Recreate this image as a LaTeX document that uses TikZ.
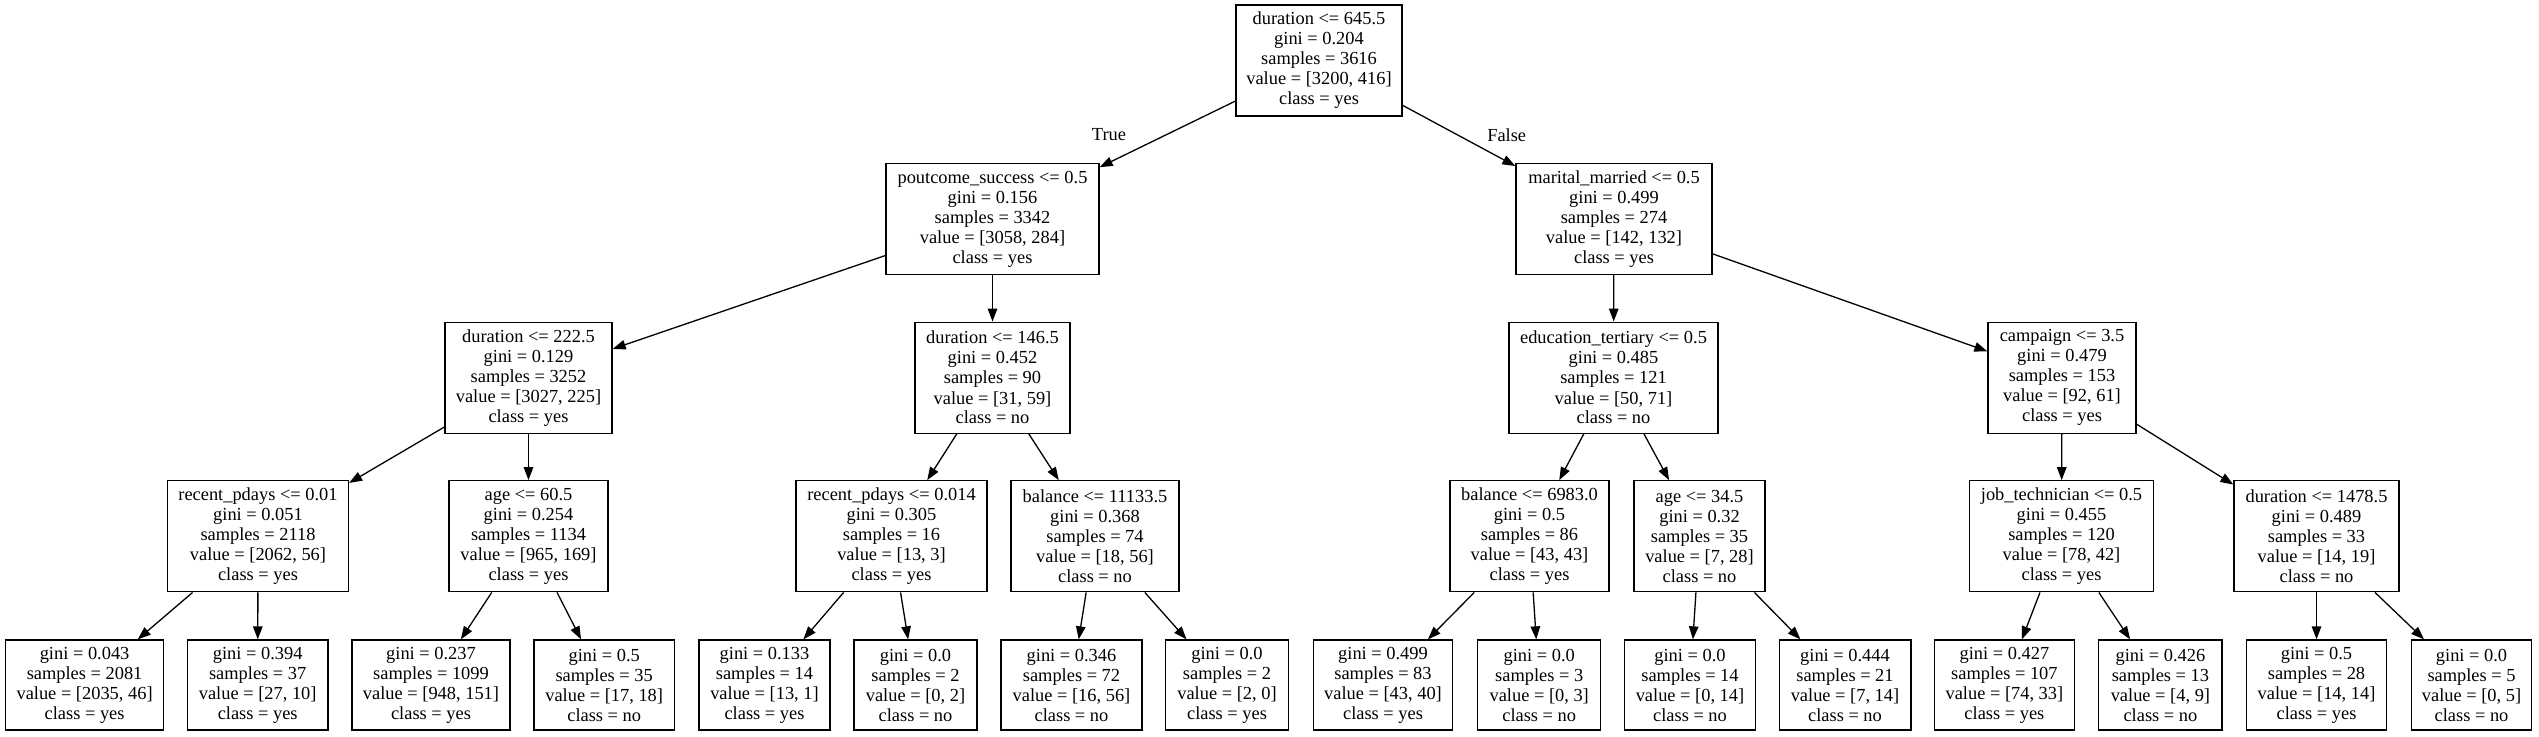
\documentclass[tikz,border=0pt]{standalone}
\usepackage{fontspec}
\setmainfont{Liberation Serif}
\usetikzlibrary{arrows.meta}
\begin{document}
\begin{tikzpicture}[x=1pt,y=-1pt,
  tbox/.style={draw=black, line width=1.3pt, rectangle, align=center, inner sep=0pt,
    font=\fontsize{18.4pt}{20pt}\selectfont},
  inode/.style={tbox, minimum height=111pt},
  lnode/.style={tbox, minimum height=90pt},
  edge/.style={line width=1.3pt, -{Triangle[length=13pt,width=9.5pt]}},
  elabel/.style={font=\fontsize{18.4pt}{20pt}\selectfont, inner sep=0pt}]
\useasboundingbox (0,0) rectangle (2539,736);
% level 0
\node[inode, minimum width=166pt] (root) at (1319,60.5) {duration <= 645.5\\gini = 0.204\\samples = 3616\\value = [3200, 416]\\class = yes};
% level 1
\node[inode, minimum width=213pt] (pout) at (992.5,219) {poutcome\_success <= 0.5\\gini = 0.156\\samples = 3342\\value = [3058, 284]\\class = yes};
\node[inode, minimum width=196pt] (mar) at (1614,219) {marital\_married <= 0.5\\gini = 0.499\\samples = 274\\value = [142, 132]\\class = yes};
% level 2
\node[inode, minimum width=167pt] (dura) at (528.5,377.7) {duration <= 222.5\\gini = 0.129\\samples = 3252\\value = [3027, 225]\\class = yes};
\node[inode, minimum width=155pt] (durb) at (992.5,377.7) {duration <= 146.5\\gini = 0.452\\samples = 90\\value = [31, 59]\\class = no};
\node[inode, minimum width=209pt] (edu) at (1613.5,377.7) {education\_tertiary <= 0.5\\gini = 0.485\\samples = 121\\value = [50, 71]\\class = no};
\node[inode, minimum width=148pt] (camp) at (2062,377.7) {campaign <= 3.5\\gini = 0.479\\samples = 153\\value = [92, 61]\\class = yes};
% level 3
\node[inode, minimum width=181pt] (rpa) at (258,536.3) {recent\_pdays <= 0.01\\gini = 0.051\\samples = 2118\\value = [2062, 56]\\class = yes};
\node[inode, minimum width=159pt] (agea) at (528.5,536.3) {age <= 60.5\\gini = 0.254\\samples = 1134\\value = [965, 169]\\class = yes};
\node[inode, minimum width=191pt] (rpb) at (891.5,536.3) {recent\_pdays <= 0.014\\gini = 0.305\\samples = 16\\value = [13, 3]\\class = yes};
\node[inode, minimum width=168pt] (bala) at (1095,536.3) {balance <= 11133.5\\gini = 0.368\\samples = 74\\value = [18, 56]\\class = no};
\node[inode, minimum width=159pt] (balb) at (1529.5,536.3) {balance <= 6983.0\\gini = 0.5\\samples = 86\\value = [43, 43]\\class = yes};
\node[inode, minimum width=131pt] (ageb) at (1699.5,536.3) {age <= 34.5\\gini = 0.32\\samples = 35\\value = [7, 28]\\class = no};
\node[inode, minimum width=184pt] (job) at (2061.5,536.3) {job\_technician <= 0.5\\gini = 0.455\\samples = 120\\value = [78, 42]\\class = yes};
\node[inode, minimum width=165pt] (durc) at (2316.5,536.3) {duration <= 1478.5\\gini = 0.489\\samples = 33\\value = [14, 19]\\class = no};
% level 4 (leaves)
\node[lnode, minimum width=158.4pt] (l1) at (84.6,685) {gini = 0.043\\samples = 2081\\value = [2035, 46]\\class = yes};
\node[lnode, minimum width=140.5pt] (l2) at (257.7,685) {gini = 0.394\\samples = 37\\value = [27, 10]\\class = yes};
\node[lnode, minimum width=158pt] (l3) at (431,685) {gini = 0.237\\samples = 1099\\value = [948, 151]\\class = yes};
\node[lnode, minimum width=140.5pt] (l4) at (604.2,685) {gini = 0.5\\samples = 35\\value = [17, 18]\\class = no};
\node[lnode, minimum width=131pt] (l5) at (764.5,685) {gini = 0.133\\samples = 14\\value = [13, 1]\\class = yes};
\node[lnode, minimum width=123pt] (l6) at (915.5,685) {gini = 0.0\\samples = 2\\value = [0, 2]\\class = no};
\node[lnode, minimum width=141pt] (l7) at (1071.5,685) {gini = 0.346\\samples = 72\\value = [16, 56]\\class = no};
\node[lnode, minimum width=122.6pt] (l8) at (1227,685) {gini = 0.0\\samples = 2\\value = [2, 0]\\class = yes};
\node[lnode, minimum width=139.4pt] (l9) at (1383,685) {gini = 0.499\\samples = 83\\value = [43, 40]\\class = yes};
\node[lnode, minimum width=123pt] (l10) at (1539.2,685) {gini = 0.0\\samples = 3\\value = [0, 3]\\class = no};
\node[lnode, minimum width=131.4pt] (l11) at (1690,685) {gini = 0.0\\samples = 14\\value = [0, 14]\\class = no};
\node[lnode, minimum width=131.7pt] (l12) at (1845,685) {gini = 0.444\\samples = 21\\value = [7, 14]\\class = no};
\node[lnode, minimum width=140.2pt] (l13) at (2004.4,685) {gini = 0.427\\samples = 107\\value = [74, 33]\\class = yes};
\node[lnode, minimum width=123.3pt] (l14) at (2160.4,685) {gini = 0.426\\samples = 13\\value = [4, 9]\\class = no};
\node[lnode, minimum width=139.7pt] (l15) at (2316.5,685) {gini = 0.5\\samples = 28\\value = [14, 14]\\class = yes};
\node[lnode, minimum width=120pt] (l16) at (2471.5,685) {gini = 0.0\\samples = 5\\value = [0, 5]\\class = no};
% edges
\draw[edge] (root) -- (pout);
\draw[edge] (root) -- (mar);
\draw[edge] (pout) -- (dura);
\draw[edge] (pout) -- (durb);
\draw[edge] (mar) -- (edu);
\draw[edge] (mar) -- (camp);
\draw[edge] (dura) -- (rpa);
\draw[edge] (dura) -- (agea);
\draw[edge] (durb) -- (rpb);
\draw[edge] (durb) -- (bala);
\draw[edge] (edu) -- (balb);
\draw[edge] (edu) -- (ageb);
\draw[edge] (camp) -- (job);
\draw[edge] (camp) -- (durc);
\draw[edge] (rpa) -- (l1);
\draw[edge] (rpa) -- (l2);
\draw[edge] (agea) -- (l3);
\draw[edge] (agea) -- (l4);
\draw[edge] (rpb) -- (l5);
\draw[edge] (rpb) -- (l6);
\draw[edge] (bala) -- (l7);
\draw[edge] (bala) -- (l8);
\draw[edge] (balb) -- (l9);
\draw[edge] (balb) -- (l10);
\draw[edge] (ageb) -- (l11);
\draw[edge] (ageb) -- (l12);
\draw[edge] (job) -- (l13);
\draw[edge] (job) -- (l14);
\draw[edge] (durc) -- (l15);
\draw[edge] (durc) -- (l16);
% edge labels
\node[elabel] (ltrue) at (1109,135) {True};
\node[elabel] (lfalse) at (1506.7,135) {False};
\end{tikzpicture}
\end{document}
